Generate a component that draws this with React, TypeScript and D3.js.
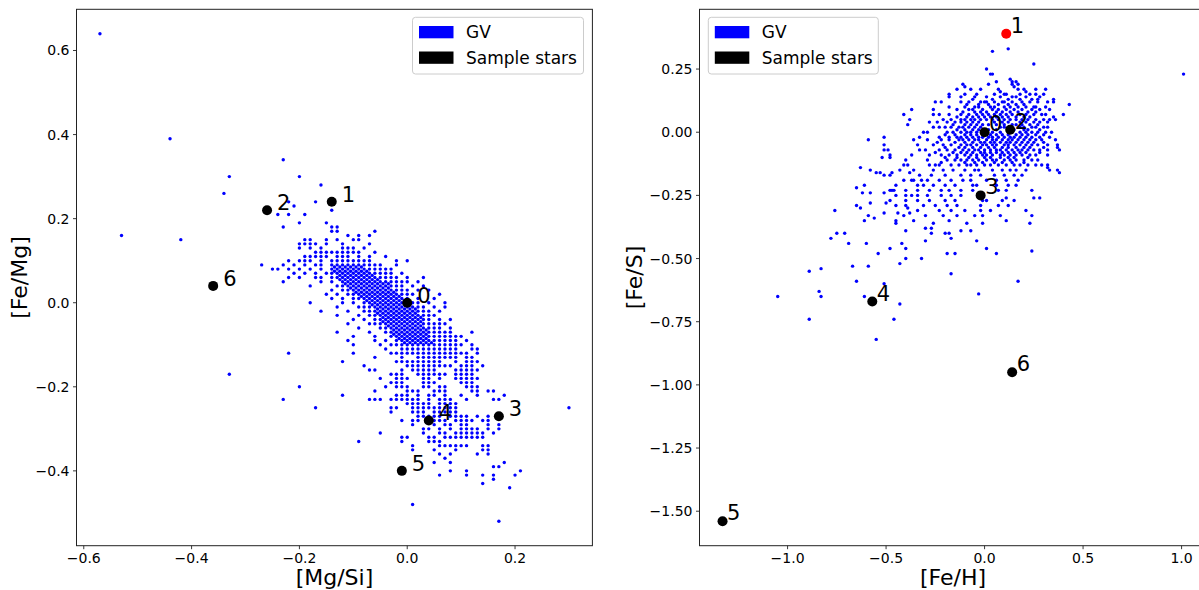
import React from "react";
import * as d3 from "d3";

// ---------- Data ----------
// Left panel GV stars: rows of [Fe/Mg] (hundredths) -> list of [Mg/Si] (hundredths)
const gvLeftRows: [number, number[]][] = [
  [64, [-57]],
  [39, [-44]],
  [34, [-23]],
  [30, [-33, -20]],
  [28, [-16]],
  [26, [-34]],
  [24, [-22, -17]],
  [23, [-21]],
  [22, [-14]],
  [21, [-24, -22, -19]],
  [19, [-20, -15]],
  [18, [-23, -14, -13]],
  [17, [-14, -13, -6]],
  [16, [-53, -11, -9, -7]],
  [15, [-42, -19, -18, -15, -13, -10, -9]],
  [14, [-20, -19, -18, -17, -15, -12, -7]],
  [13, [-20, -18, -16, -12, -11, -10, -8]],
  [12, [-17, -16, -15, -14, -13, -12, -11, -10, -9, -6]],
  [11, [-19, -18, -17, -16, -15, -13, -12, -11, -9, -7, -4]],
  [10, [-22, -20, -19, -18, -16, -14, -13, -12, -11, -10, -9, -8, -7, -2, 0]],
  [9, [-27, -23, -21, -19, -17, -16, -14, -13, -12, -11, -10, -9, -8, -7, -6, -5, -2]],
  [8, [-25, -24, -22, -20, -18, -16, -14, -13, -12, -11, -10, -9, -8, -7, -6, -5, -4, -3]],
  [7, [-21, -19, -17, -15, -14, -13, -12, -11, -10, -9, -8, -7, -6, -5, -4, -3, -1]],
  [6, [-22, -20, -17, -16, -14, -13, -12, -11, -10, -9, -8, -7, -6, -5, -4, -3, -2, 0, 3]],
  [5, [-23, -16, -14, -12, -11, -10, -9, -8, -7, -6, -5, -4, -3, -2, -1, 0, 2]],
  [4, [-18, -13, -12, -11, -10, -9, -8, -7, -6, -5, -4, -3, -2, -1, 1, 3]],
  [3, [-14, -12, -11, -10, -9, -8, -7, -6, -5, -4, -3, -2, -1, 0, 2, 4]],
  [2, [-15, -13, -11, -10, -9, -8, -7, -6, -5, -4, -3, -2, -1, 0, 1, 6]],
  [1, [-14, -12, -10, -9, -8, -7, -6, -5, -4, -3, -2, -1, 0, 2, 5]],
  [0, [-18, -12, -10, -8, -7, -6, -5, -4, -3, -2, -1, 1, 2, 4, 7]],
  [-1, [-13, -9, -8, -7, -6, -5, -4, -3, -2, -1, 0, 1, 2, 3, 5, 7]],
  [-2, [-16, -11, -8, -7, -6, -5, -4, -3, -2, -1, 0, 1, 2, 3, 4, 6]],
  [-3, [-13, -9, -7, -6, -5, -4, -3, -2, -1, 0, 1, 2, 3, 4, 5]],
  [-4, [-10, -8, -6, -5, -4, -3, -2, -1, 0, 1, 2, 3, 4, 6, 8]],
  [-5, [-11, -7, -6, -5, -4, -3, -2, -1, 0, 1, 2, 3, 4, 5, 6, 7]],
  [-6, [-9, -5, -4, -3, -2, -1, 0, 1, 2, 3, 4, 5, 6, 8]],
  [-7, [-13, -7, -4, -3, -2, -1, 0, 1, 2, 3, 4, 5, 6, 7, 8, 12]],
  [-8, [-10, -6, -3, -2, -1, 0, 1, 2, 3, 4, 5, 6, 7, 8, 9, 10]],
  [-9, [-11, -6, -4, -2, -1, 0, 1, 2, 3, 4, 5, 6, 7, 8, 9, 11]],
  [-10, [-10, -5, -3, -2, -1, 0, 1, 2, 3, 4, 5, 6, 7, 8, 9, 10, 12]],
  [-11, [-4, -1, 0, 1, 2, 3, 4, 5, 6, 7, 8, 9, 12, 13]],
  [-12, [-22, -10, -3, -2, -1, 0, 1, 2, 3, 4, 5, 6, 7, 8, 9, 10, 11, 13]],
  [-13, [-6, -1, 2, 3, 4, 5, 6, 7, 8, 9, 11, 12]],
  [-14, [-12, -2, -1, 0, 1, 2, 3, 4, 5, 6, 9, 11, 12, 13]],
  [-15, [-8, 0, 1, 2, 3, 4, 5, 6, 7, 8, 10, 11, 12, 14]],
  [-16, [-7, -6, -1, 1, 2, 3, 4, 5, 9, 10, 11, 12, 13]],
  [-17, [-33, -3, -2, -1, 2, 3, 4, 5, 6, 7, 9, 10, 11, 12]],
  [-18, [-5, -2, -1, 0, 3, 4, 6, 9, 10, 11, 12, 13]],
  [-19, [-3, -2, -1, 3, 4, 5, 10, 11, 12]],
  [-20, [-20, -4, -2, -1, 0, 3, 4, 6, 7, 11, 12, 13]],
  [-21, [-6, 0, 1, 2, 5, 6, 7, 12, 13, 15, 16]],
  [-22, [-12, -2, -1, 0, 2, 4, 5, 7, 10, 13, 18]],
  [-23, [-23, -7, -6, -5, -3, -2, -1, 0, 1, 2, 4, 6, 7, 8, 11, 16, 17]],
  [-24, [0, 1, 2, 3, 4, 6, 7, 8, 9]],
  [-25, [-17, -3, -2, 1, 2, 3, 4, 5, 6, 7, 8, 9, 30]],
  [-26, [-3, 1, 2, 3, 5, 6, 7, 8, 9]],
  [-27, [2, 3, 4, 5, 6, 8, 9, 10, 11, 13, 15]],
  [-28, [-1, 1, 2, 4, 5, 6, 7, 9, 10, 11, 12, 14, 15]],
  [-29, [1, 5, 7, 8, 10, 11, 15, 17]],
  [-30, [3, 4, 6, 8, 10, 11, 12, 13, 15, 17]],
  [-31, [-5, 3, 6, 7, 9, 10, 11, 12, 13, 14, 16]],
  [-32, [-1, 0, 4, 5, 7, 8, 9, 10, 11, 12, 13, 14]],
  [-33, [-9, -1, 4, 5, 6]],
  [-34, [1, 6, 7, 8, 9, 10, 11, 14, 15]],
  [-35, [1, 5, 9, 14, 15]],
  [-36, [6, 8, 13, 15]],
  [-37, [7]],
  [-38, [5, 8, 18]],
  [-39, [16, 17]],
  [-40, [8, 11, 21]],
  [-41, [6, 11, 14, 16, 20]],
  [-42, [16]],
  [-43, [14]],
  [-44, [19]],
  [-48, [1]],
  [-52, [17]],
];

// Left panel solid core (points between the hundredth rows), same units
const gvLeftCoreRows: [number, number[]][] = [
  [8.5, [-13.5, -12.5, -11.5, -10.5, -9.5, -8.5]],
  [7.5, [-13.5, -12.5, -11.5, -10.5, -9.5, -8.5, -7.5]],
  [6.5, [-12.5, -11.5, -10.5, -9.5, -8.5, -7.5, -6.5]],
  [5.5, [-12.5, -11.5, -10.5, -9.5, -8.5, -7.5, -6.5, -5.5]],
  [4.5, [-11.5, -10.5, -9.5, -8.5, -7.5, -6.5, -5.5, -4.5, -3.5]],
  [3.5, [-10.5, -9.5, -8.5, -7.5, -6.5, -5.5, -4.5, -3.5]],
  [2.5, [-9.5, -8.5, -7.5, -6.5, -5.5, -4.5, -3.5, -2.5]],
  [1.5, [-8.5, -7.5, -6.5, -5.5, -4.5, -3.5, -2.5, -1.5]],
  [0.5, [-7.5, -6.5, -5.5, -4.5, -3.5, -2.5, -1.5, -0.5]],
  [-0.5, [-6.5, -5.5, -4.5, -3.5, -2.5, -1.5, -0.5, 0.5]],
  [-1.5, [-5.5, -4.5, -3.5, -2.5, -1.5, -0.5, 0.5, 1.5]],
  [-2.5, [-5.5, -4.5, -3.5, -2.5, -1.5, -0.5, 0.5, 1.5]],
  [-3.5, [-4.5, -3.5, -2.5, -1.5, -0.5, 0.5, 1.5, 2.5]],
  [-4.5, [-4.5, -3.5, -2.5, -1.5, -0.5, 0.5, 1.5, 2.5]],
  [-5.5, [-3.5, -2.5, -1.5, -0.5, 0.5, 1.5, 2.5]],
  [-6.5, [-2.5, -1.5, -0.5, 0.5, 1.5, 2.5, 3.5]],
  [-7.5, [-2.5, -1.5, -0.5, 0.5, 1.5, 2.5, 3.5]],
  [-8.5, [-1.5, -0.5, 0.5, 1.5, 2.5, 3.5]],
  [-9.5, [-0.5, 0.5, 1.5, 2.5, 3.5, 4.5]],
];

// Right panel GV stars: rows of [Fe/S] -> list of [Fe/H]
const gvRightRows: [number, number[]][] = [
  [0.27, [0.25]],
  [0.25, [0.01]],
  [0.23, [0.03, 0.04]],
  [0.21, [0.13]],
  [0.2, [0.06, 0.14, 0.16]],
  [0.19, [-0.11, 0.02, 0.14, 0.17]],
  [0.18, [-0.1, 0.15]],
  [0.17, [-0.14, -0.07, -0.02, 0.07, 0.17, 0.2, 0.26, 0.31]],
  [0.16, [0.08, 0.21]],
  [0.15, [-0.18, -0.1, -0.04, 0.05, 0.1, 0.11, 0.18, 0.23, 0.26, 0.3]],
  [0.14, [-0.18, -0.12, -0.05, 0.01, 0.08, 0.14, 0.16, 0.21, 0.28]],
  [0.13, [0.27, 0.35]],
  [0.12, [-0.25, -0.22, -0.12, -0.08, -0.02, 0.0, 0.01, 0.05, 0.09, 0.1, 0.14, 0.19, 0.23, 0.27, 0.32, 0.35]],
  [0.11, [0.43]],
  [0.1, [-0.18, -0.1, -0.05, -0.03, 0.03, 0.05, 0.1, 0.13, 0.17, 0.21, 0.25, 0.26, 0.31]],
  [0.09, [-0.37, -0.26, -0.14, -0.08, -0.06, -0.01, 0.04, 0.07, 0.11, 0.15, 0.19, 0.24, 0.28, 0.33]],
  [0.07, [-0.41, -0.26, -0.23, -0.18, -0.12, -0.08, -0.04, -0.01, 0.02, 0.05, 0.08, 0.11, 0.14, 0.18, 0.21, 0.25, 0.29, 0.31, 0.4]],
  [0.06, [0.35]],
  [0.05, [-0.38, -0.21, -0.17, -0.12, -0.1, -0.07, -0.05, -0.02, 0.01, 0.04, 0.07, 0.1, 0.13, 0.16, 0.19, 0.22, 0.26, 0.3, 0.33, 0.36]],
  [0.04, [-0.28, -0.24, -0.19, -0.15, -0.12, -0.09, -0.06, -0.03, 0.05, 0.09, 0.12, 0.18, 0.21, 0.25, 0.28, 0.32]],
  [0.03, [-0.39]],
  [0.02, [-0.26, -0.23, -0.2, -0.17, -0.13, -0.11, -0.08, -0.05, -0.02, 0.08, 0.1, 0.18, 0.2, 0.24, 0.26, 0.3, 0.32]],
  [0.0, [-0.31, -0.29, -0.19, -0.16, -0.12, -0.09, -0.07, -0.04, 0.04, 0.08, 0.18, 0.21, 0.24, 0.27, 0.31, 0.34]],
  [-0.02, [-0.51, -0.33, -0.23, -0.18, -0.14, -0.12, -0.09, -0.06, -0.03, -0.01, 0.02, 0.04, 0.07, 0.1, 0.13, 0.15, 0.18, 0.21, 0.24, 0.28, 0.33]],
  [-0.03, [-0.59, -0.36, -0.29, -0.22, -0.18, -0.13, -0.11, -0.08, -0.05, -0.03, 0.01, 0.04, 0.06, 0.09, 0.12, 0.14, 0.17, 0.2, 0.23, 0.26, 0.29, 0.36]],
  [-0.05, [-0.51, -0.34, -0.26, -0.21, -0.17, -0.12, -0.09, -0.07, -0.04, -0.01, 0.01, 0.04, 0.06, 0.1, 0.12, 0.15, 0.18, 0.21, 0.24, 0.27, 0.32, 0.37]],
  [-0.06, [0.37]],
  [-0.07, [-0.51, -0.49, -0.33, -0.3, -0.23, -0.19, -0.15, -0.11, -0.08, -0.05, -0.03, 0.0, 0.03, 0.06, 0.08, 0.11, 0.14, 0.17, 0.19, 0.22, 0.25, 0.28, 0.32, 0.38]],
  [-0.09, [-0.48, -0.37, -0.28, -0.22, -0.18, -0.14, -0.1, -0.07, -0.04, -0.01, 0.01, 0.04, 0.08, 0.1, 0.13, 0.16, 0.19, 0.23, 0.26, 0.32]],
  [-0.1, [-0.52, -0.48]],
  [-0.11, [-0.4, -0.29, -0.19, -0.15, -0.12, -0.09, -0.06, -0.03, 0.01, 0.04, 0.06, 0.1, 0.13, 0.16, 0.2, 0.24, 0.27]],
  [-0.13, [-0.41, -0.39, -0.28, -0.25, -0.23, -0.17, -0.13, -0.09, -0.07, -0.04, 0.0, 0.03, 0.07, 0.11, 0.15, 0.18, 0.22, 0.26, 0.29, 0.32]],
  [-0.14, [-0.63, 0.32]],
  [-0.15, [-0.58, -0.43, -0.36, -0.26, -0.21, -0.16, -0.1, -0.05, -0.03, 0.04, 0.09, 0.13, 0.16, 0.21, 0.33, 0.37]],
  [-0.16, [-0.55, -0.53, -0.47, -0.38, 0.38]],
  [-0.17, [-0.51, -0.48, -0.33, -0.27, -0.2, -0.12, -0.07, -0.02, 0.05, 0.1, 0.15, 0.19]],
  [-0.19, [-0.41, -0.37, -0.36, -0.32, -0.29, -0.23, -0.17, -0.11, -0.07, 0.01, 0.06, 0.11, 0.17]],
  [-0.21, [-0.61, -0.45, -0.34, -0.31, -0.26, -0.2, -0.15, -0.06, -0.04, 0.06, 0.12, 0.16]],
  [-0.22, [-0.65]],
  [-0.23, [-0.48, -0.47, -0.46, -0.4, -0.34, -0.28, -0.22, -0.18, -0.12, -0.06, 0.07, 0.11, 0.24]],
  [-0.24, [-0.62, -0.58, -0.51]],
  [-0.25, [-0.45, -0.4, -0.37, -0.34, -0.29, -0.22, -0.17, -0.12]],
  [-0.26, [0.11, 0.25, 0.28]],
  [-0.27, [-0.48, -0.4, -0.34, -0.28, -0.2, -0.15, -0.01, 0.01, 0.09, 0.15]],
  [-0.28, [-0.58, -0.5]],
  [-0.29, [-0.65, -0.45, -0.4, -0.31, -0.25, -0.19, -0.14, -0.02, 0.07, 0.12]],
  [-0.3, [-0.63, -0.39]],
  [-0.31, [-0.76, -0.34, -0.23, -0.17, -0.1, -0.02, 0.03, 0.21]],
  [-0.32, [-0.51, -0.44, -0.38]],
  [-0.33, [-0.59, -0.41, -0.3, -0.21, -0.14, -0.05, -0.01, 0.08, 0.24]],
  [-0.34, [-0.56]],
  [-0.35, [-0.61, -0.45, -0.36, -0.18, 0.11]],
  [-0.36, [-0.45, -0.26, -0.09, -0.01, 0.23]],
  [-0.38, [-0.3, -0.27]],
  [-0.39, [-0.4, -0.12, -0.07]],
  [-0.4, [-0.75, -0.71, -0.27, -0.2, -0.18]],
  [-0.42, [-0.78, -0.17]],
  [-0.43, [-0.3, -0.04]],
  [-0.44, [-0.69, -0.6, -0.42]],
  [-0.46, [-0.48, -0.4, 0.01]],
  [-0.47, [0.24]],
  [-0.48, [-0.54, -0.19, -0.15, 0.06]],
  [-0.5, [-0.4, -0.32]],
  [-0.52, [-0.43]],
  [-0.53, [-0.67, -0.59]],
  [-0.54, [-0.83]],
  [-0.55, [-0.89]],
  [-0.56, [-0.17]],
  [-0.59, [-0.65, 0.17]],
  [-0.6, [-0.51]],
  [-0.63, [-0.84]],
  [-0.64, [-0.03]],
  [-0.65, [-1.05, -0.83, -0.61]],
  [-0.68, [-0.43]],
  [-0.74, [-0.89, -0.46]],
  [-0.82, [-0.55]],
  [0.32, [0.04]],
  [0.33, [0.12]],
  [0.23, [1.01]],
];

// Right panel dense core (between the rows above)
const gvRightCoreRows: [number, number[]][] = [
  [0.13, [-0.06, 0.04, 0.12, 0.18, 0.24]],
  [0.11, [-0.09, -0.03, 0.02, 0.07, 0.12, 0.16, 0.2]],
  [0.08, [-0.11, -0.05, -0.02, 0.01, 0.06, 0.09, 0.13, 0.17, 0.22, 0.26]],
  [0.06, [-0.14, -0.09, -0.06, -0.03, 0.0, 0.03, 0.06, 0.09, 0.12, 0.16, 0.2, 0.23]],
  [0.03, [-0.16, -0.1, -0.07, -0.04, -0.01, 0.02, 0.06, 0.1, 0.14, 0.16, 0.19, 0.23, 0.27]],
  [0.01, [-0.14, -0.1, -0.06, -0.03, 0.02, 0.06, 0.12, 0.15, 0.2, 0.22, 0.28]],
  [-0.01, [-0.2, -0.15, -0.1, -0.07, -0.04, 0.0, 0.03, 0.06, 0.09, 0.12, 0.16, 0.19, 0.22, 0.26, 0.3]],
  [-0.04, [-0.24, -0.15, -0.1, -0.06, -0.02, 0.0, 0.03, 0.05, 0.08, 0.11, 0.13, 0.16, 0.19, 0.22, 0.25, 0.3]],
  [-0.06, [-0.2, -0.13, -0.1, -0.06, -0.02, 0.02, 0.05, 0.09, 0.12, 0.16, 0.2, 0.23, 0.3]],
  [-0.08, [-0.25, -0.16, -0.12, -0.09, -0.06, -0.02, 0.0, 0.03, 0.06, 0.09, 0.12, 0.15, 0.18, 0.21, 0.28]],
  [-0.1, [-0.2, -0.14, -0.08, -0.04, 0.0, 0.03, 0.08, 0.12, 0.15, 0.22]],
  [-0.12, [-0.22, -0.1, -0.05, -0.01, 0.05, 0.09, 0.14, 0.2]],
];

// Sample stars
const sampleIds = ["0", "1", "2", "3", "4", "5", "6"];
const sampleMgSi = [0.0, -0.14, -0.26, 0.17, 0.04, -0.01, -0.36];
const sampleFeMg = [0.0, 0.24, 0.22, -0.27, -0.28, -0.4, 0.04];
const sampleFeH = [0.0, 0.11, 0.13, -0.02, -0.57, -1.33, 0.14];
const sampleFeS = [0.0, 0.39, 0.01, -0.25, -0.67, -1.54, -0.95];
const highlightRight = "1";

// Ticks
const leftXTicks = [-0.6, -0.4, -0.2, 0.0, 0.2];
const leftYTicks = [-0.4, -0.2, 0.0, 0.2, 0.4, 0.6];
const rightXTicks = [-1.0, -0.5, 0.0, 0.5, 1.0];
const rightYTicks = [-1.5, -1.25, -1.0, -0.75, -0.5, -0.25, 0.0, 0.25];

const legendLabels = ["GV", "Sample stars"];

// ---------- Layout ----------
const W = 1199;
const H = 590;
const FONT = "DejaVu Sans, Liberation Sans, sans-serif";
const BLUE = "#0000ff";

const leftPts = [...gvLeftRows, ...gvLeftCoreRows].flatMap(([y, xs]) =>
  xs.map((x) => [x / 100, y / 100] as [number, number])
);
const rightPts = [...gvRightRows, ...gvRightCoreRows].flatMap(([y, xs]) =>
  xs.map((x) => [x, y] as [number, number])
);

const fmtMinus = (s: string) => s.replace("-", "\u2212");

type PanelProps = {
  x: d3.ScaleLinear<number, number>;
  y: d3.ScaleLinear<number, number>;
  pts: [number, number][];
  sx: number[];
  sy: number[];
  xTicks: number[];
  yTicks: number[];
  xFmt: (v: number) => string;
  yFmt: (v: number) => string;
  xLabel: string;
  yLabel: string;
  yLabelX: number;
  labelDx: number;
  labelDy: number;
  highlight?: string;
  legendX: number;
  legendW: number;
  clipId: string;
};

function Panel(p: PanelProps) {
  const [x0, x1] = p.x.range();
  const [y0, y1] = p.y.range();
  const top = Math.min(y0, y1);
  const bottom = Math.max(y0, y1);
  const cx = (x0 + x1) / 2;
  const cy = (top + bottom) / 2;
  return (
    <g>
      <defs>
        <clipPath id={p.clipId}>
          <rect x={x0} y={top} width={x1 - x0} height={bottom - top} />
        </clipPath>
      </defs>
      <g clipPath={`url(#${p.clipId})`}>
        {p.pts.map(([a, b], i) => (
          <circle key={i} cx={p.x(a)} cy={p.y(b)} r={1.7} fill={BLUE} />
        ))}
        {p.sx.map((a, i) => (
          <circle
            key={"s" + i}
            cx={p.x(a)}
            cy={p.y(p.sy[i])}
            r={5}
            fill={p.highlight === sampleIds[i] ? "#ff0000" : "#000000"}
          />
        ))}
      </g>
      {p.sx.map((a, i) => (
        <text
          key={"t" + i}
          x={p.x(a) + p.labelDx}
          y={p.y(p.sy[i]) + p.labelDy}
          fontSize={21}
          fontFamily={FONT}
          fill="#000"
        >
          {sampleIds[i]}
        </text>
      ))}
      <rect x={x0} y={top} width={x1 - x0} height={bottom - top} fill="none" stroke="#222" strokeWidth={1} />
      {p.xTicks.map((t) => (
        <g key={"xt" + t}>
          <line x1={p.x(t)} x2={p.x(t)} y1={bottom} y2={bottom + 3.5} stroke="#222" strokeWidth={0.9} />
          <text x={p.x(t)} y={bottom + 17.5} textAnchor="middle" fontSize={14} fontFamily={FONT} fill="#000">
            {p.xFmt(t)}
          </text>
        </g>
      ))}
      {p.yTicks.map((t) => (
        <g key={"yt" + t}>
          <line x1={x0 - 3.5} x2={x0} y1={p.y(t)} y2={p.y(t)} stroke="#222" strokeWidth={0.9} />
          <text x={x0 - 7} y={p.y(t) + 5} textAnchor="end" fontSize={14} fontFamily={FONT} fill="#000">
            {p.yFmt(t)}
          </text>
        </g>
      ))}
      <text x={cx} y={585} textAnchor="middle" fontSize={22} fontFamily={FONT} fill="#000">
        {p.xLabel}
      </text>
      <text
        transform={`translate(${p.yLabelX},${cy}) rotate(-90)`}
        textAnchor="middle"
        fontSize={22}
        fontFamily={FONT}
        fill="#000"
      >
        {p.yLabel}
      </text>
      <g>
        <rect
          x={p.legendX}
          y={17.3}
          width={p.legendW}
          height={56.7}
          rx={3}
          fill="#fff"
          fillOpacity={0.8}
          stroke="#cccccc"
          strokeWidth={1}
        />
        {legendLabels.map((lab, i) => (
          <g key={lab}>
            <rect x={p.legendX + 6.5} y={26 + i * 25.5} width={34.5} height={12.3} fill={i === 0 ? BLUE : "#000"} />
            <text x={p.legendX + 53.5} y={38 + i * 25.8} fontSize={17} fontFamily={FONT} fill="#000">
              {lab}
            </text>
          </g>
        ))}
      </g>
    </g>
  );
}

export default function App() {
  const lx = d3.scaleLinear().domain([-0.6135, 0.3435]).range([76.5, 592.4]);
  const ly = d3.scaleLinear().domain([-0.578, 0.698]).range([545.7, 9.3]);
  const rx = d3.scaleLinear().domain([-1.447, 1.127]).range([699.5, 1206.6]);
  const ry = d3.scaleLinear().domain([-1.6365, 0.4865]).range([545.7, 9.3]);
  const f1 = d3.format(".1f");
  const f2 = d3.format(".2f");
  return (
    <svg
      width={W}
      height={H}
      style={{ position: "absolute", left: 0, top: 0, background: "#fff" }}
      xmlns="http://www.w3.org/2000/svg"
    >
      <rect x={0} y={0} width={W} height={H} fill="#fff" />
      <Panel
        x={lx}
        y={ly}
        pts={leftPts}
        sx={sampleMgSi}
        sy={sampleFeMg}
        xTicks={leftXTicks}
        yTicks={leftYTicks}
        xFmt={(v) => fmtMinus(f1(v))}
        yFmt={(v) => fmtMinus(f1(v))}
        xLabel="[Mg/Si]"
        yLabel="[Fe/Mg]"
        yLabelX={26.5}
        labelDx={10}
        labelDy={0}
        legendX={412.5}
        legendW={171}
        clipId="clipL"
      />
      <Panel
        x={rx}
        y={ry}
        pts={rightPts}
        sx={sampleFeH}
        sy={sampleFeS}
        xTicks={rightXTicks}
        yTicks={rightYTicks}
        xFmt={(v) => fmtMinus(f1(v))}
        yFmt={(v) => fmtMinus(f2(v))}
        xLabel="[Fe/H]"
        yLabel="[Fe/S]"
        yLabelX={641.5}
        labelDx={4.5}
        labelDy={-1}
        highlight={highlightRight}
        legendX={708.3}
        legendW={170}
        clipId="clipR"
      />
    </svg>
  );
}
